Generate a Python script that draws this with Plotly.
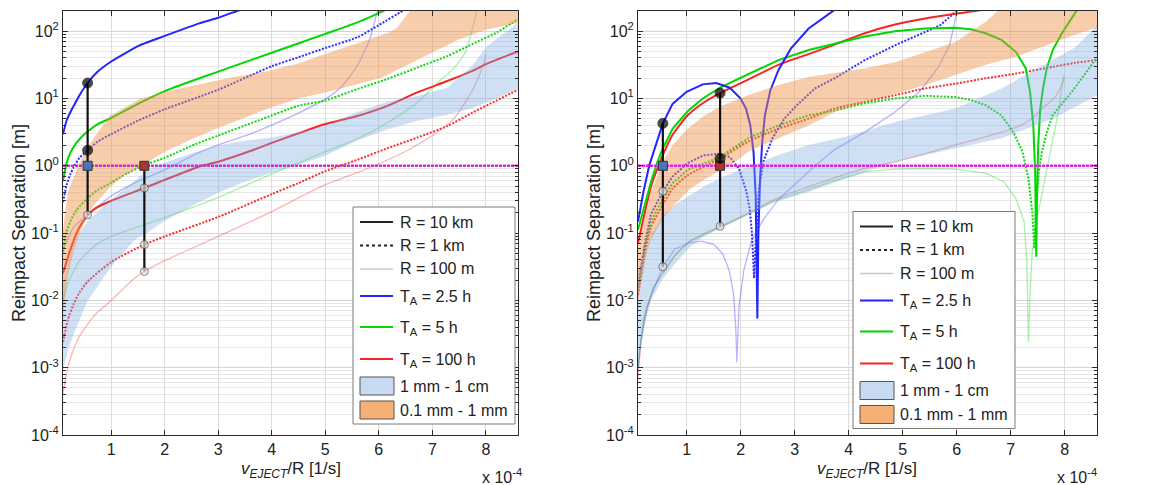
import plotly.graph_objects as go

# ---------------- canvas / axes ----------------
W, H = 1149, 485
ML, MR, MT, MB = 63, 52, 11, 50

X_RANGE = [0.1, 8.6]          # v_EJECT/R in units of 1e-4 1/s
Y_LOG_RANGE = [-4, 2.3]       # log10 of separation [m]

x_ticks = [1, 2, 3, 4, 5, 6, 7, 8]
x_ticklabels = ["1", "2", "3", "4", "5", "6", "7", "8"]
y_ticks = [1e-4, 1e-3, 1e-2, 1e-1, 1e0, 1e1, 1e2]
y_ticklabels = ["10<sup>-4</sup>", "10<sup>-3</sup>", "10<sup>-2</sup>", "10<sup>-1</sup>",
                "10<sup>0</sup>", "10<sup>1</sup>", "10<sup>2</sup>"]
y_minor = [k * 10.0 ** d for d in range(-4, 3) for k in range(2, 10)]

threshold_m = 1.0

# ---------------- LEFT PANEL (values are log10 of separation in m) ----------------
A_x_b10 = [0.10, 0.17, 0.24, 0.30, 0.41, 0.56, 0.75, 1.00, 1.30, 1.53, 2.00, 2.66, 3.00, 3.35, 3.60]
A_L_b10 = [0.47, 0.68, 0.80, 0.89, 1.05, 1.23, 1.40, 1.55, 1.69, 1.79, 1.93, 2.12, 2.20, 2.30, 2.37]

A_x_g10 = [0.10, 0.17, 0.24, 0.34, 0.46, 0.56, 0.75, 1.00, 1.50, 2.00, 3.00, 4.00, 5.00, 5.60, 6.08, 6.30]
A_L_g10 = [-0.22, 0.05, 0.20, 0.33, 0.44, 0.51, 0.62, 0.71, 0.92, 1.11, 1.40, 1.68, 1.96, 2.13, 2.30, 2.38]

A_x_r10 = [0.10, 0.19, 0.30, 0.41, 0.56, 0.69, 1.00, 1.62, 2.00, 2.65, 3.00, 3.64, 4.00, 4.49, 5.00, 5.60,
           6.16, 6.72, 7.28, 7.75, 8.00, 8.60]
A_L_r10 = [-1.60, -1.36, -1.11, -0.91, -0.74, -0.64, -0.52, -0.33, -0.21, -0.01, 0.06, 0.23, 0.34, 0.48, 0.62,
           0.74, 0.89, 1.09, 1.26, 1.41, 1.51, 1.70]

A_x_b1 = [0.10, 0.17, 0.24, 0.30, 0.41, 0.56, 0.75, 1.00, 1.50, 2.00, 3.00, 4.00, 4.49, 5.00, 5.60, 6.00, 6.44, 6.60]
A_L_b1 = [-0.54, -0.28, -0.12, -0.02, 0.12, 0.23, 0.36, 0.47, 0.67, 0.84, 1.13, 1.48, 1.61, 1.75, 1.91, 2.09, 2.30, 2.36]

A_x_g1 = [0.10, 0.16, 0.24, 0.35, 0.56, 0.75, 1.00, 1.30, 1.62, 2.00, 2.57, 3.00, 3.74, 4.49, 5.00, 5.60, 6.16,
          6.72, 7.28, 7.75, 8.20, 8.60]
A_L_g1 = [-1.28, -1.00, -0.82, -0.66, -0.48, -0.36, -0.25, -0.11, 0.01, 0.12, 0.32, 0.45, 0.67, 0.89, 0.97,
          1.14, 1.29, 1.46, 1.63, 1.81, 1.98, 2.18]

A_x_r1 = [0.10, 0.19, 0.30, 0.41, 0.56, 1.00, 1.62, 2.00, 3.00, 4.00, 4.49, 5.00, 5.60, 6.16, 6.72, 7.28, 7.75,
          8.20, 8.60]
A_L_r1 = [-2.62, -2.29, -2.05, -1.88, -1.72, -1.43, -1.17, -1.05, -0.76, -0.42, -0.26, -0.08, 0.09, 0.26, 0.42,
          0.59, 0.79, 0.97, 1.13]

A_x_b100 = [0.10, 0.30, 0.56, 1.00, 1.45, 2.00, 2.57, 3.00, 3.69, 4.19, 4.49, 5.00, 5.32, 5.60, 5.83, 5.95, 6.02]
A_L_b100 = [-1.26, -0.91, -0.73, -0.45, -0.25, -0.06, 0.17, 0.31, 0.50, 0.67, 0.78, 0.99, 1.19, 1.49, 1.88,
            2.23, 2.40]

A_x_g100 = [0.10, 0.19, 0.41, 0.69, 1.00, 1.45, 2.00, 3.00, 4.00, 4.49, 5.00, 5.60, 6.16, 6.72, 7.11, 7.39, 7.61,
            7.73, 7.80, 7.85]
A_L_g100 = [-2.00, -1.75, -1.41, -1.19, -1.05, -0.92, -0.77, -0.47, -0.12, 0.04, 0.21, 0.40, 0.64, 0.94, 1.24,
            1.44, 1.68, 1.98, 2.20, 2.40]

A_x_r100 = [0.10, 0.19, 0.30, 0.41, 0.69, 1.00, 1.45, 1.62, 2.00, 3.00, 4.00, 4.49, 5.00, 5.60, 6.00, 6.44, 7.00,
            7.39, 7.61, 7.80, 7.95, 8.00]
A_L_r100 = [-3.38, -3.00, -2.72, -2.53, -2.22, -2.00, -1.66, -1.57, -1.41, -1.05, -0.68, -0.48, -0.28, -0.10,
            0.03, 0.19, 0.45, 0.69, 0.94, 1.20, 1.50, 1.66]

A_x_or_up = [0.10, 0.19, 0.41, 0.56, 0.97, 1.53, 2.00, 2.66, 3.22, 3.89, 4.49, 5.00, 5.60, 6.16, 6.34, 6.58,
             6.80, 8.60]
A_L_or_up = [-0.95, -0.39, 0.05, 0.28, 0.74, 0.99, 1.10, 1.21, 1.31, 1.40, 1.52, 1.66, 1.82, 1.97, 2.05, 2.30,
             2.60, 2.60]
A_x_or_lo = [0.10, 0.19, 0.30, 0.41, 0.56, 0.69, 1.00, 1.25, 1.45, 1.62, 2.00, 2.57, 3.00, 3.89, 4.49, 5.00,
             5.60, 6.05, 6.44, 7.00, 7.50, 8.00, 8.60]
A_L_or_lo = [-2.20, -1.65, -1.26, -1.01, -0.74, -0.57, -0.30, -0.14, -0.06, 0.02, 0.21, 0.42, 0.56, 0.84, 1.00,
             1.09, 1.21, 1.31, 1.46, 1.68, 1.88, 2.02, 2.12]

A_x_bl_up = [0.10, 0.30, 0.56, 1.00, 1.45, 1.62, 2.00, 2.57, 3.00, 3.46, 4.00, 4.52, 5.00, 5.60, 6.16, 6.72,
             7.28, 7.75, 8.00, 8.30, 8.60]
A_L_bl_up = [-1.75, -1.15, -0.82, -0.50, -0.22, -0.09, 0.05, 0.20, 0.30, 0.37, 0.42, 0.50, 0.60, 0.80, 0.95,
             1.04, 1.16, 1.49, 1.76, 1.95, 2.13]
A_x_bl_lo = [0.10, 0.19, 0.30, 0.56, 1.00, 1.45, 1.62, 2.00, 2.57, 3.00, 3.46, 4.00, 4.52, 5.00, 5.60, 6.16,
             6.72, 7.28, 7.75, 8.20, 8.60]
A_L_bl_lo = [-3.05, -2.75, -2.50, -2.00, -1.50, -1.09, -1.02, -0.82, -0.57, -0.40, -0.25, -0.10, 0.02, 0.15,
             0.38, 0.54, 0.67, 0.76, 0.86, 1.00, 1.15]

A_mark_x = [0.56, 0.56, 0.56, 1.62, 1.62, 1.62]
A_mark_L = [1.23, 0.23, -0.73, -0.33, -1.17, -1.57]

# ---------------- RIGHT PANEL ----------------
B_x_b10 = [0.10, 0.20, 0.31, 0.43, 0.56, 0.74, 1.00, 1.30, 1.55, 1.80, 2.00, 2.10, 2.18, 2.24, 2.28, 2.31, 2.33,
           2.36, 2.40, 2.45, 2.55, 2.70, 2.93, 3.26, 3.50, 3.71, 3.85]
B_L_b10 = [-0.83, -0.39, 0.01, 0.31, 0.63, 0.92, 1.10, 1.21, 1.23, 1.16, 1.00, 0.85, 0.60, 0.20, -0.45, -2.27,
           -1.00, -0.20, 0.35, 0.75, 1.12, 1.42, 1.74, 2.04, 2.18, 2.30, 2.38]

B_x_b1 = [0.10, 0.23, 0.34, 0.56, 0.74, 1.02, 1.30, 1.58, 1.80, 1.97, 2.11, 2.17, 2.21, 2.25, 2.275, 2.30, 2.34,
          2.42, 2.59, 2.81, 3.04, 3.38, 3.74, 4.30, 4.86, 5.42, 5.70, 5.98, 6.05]
B_L_b1 = [-1.78, -1.15, -0.72, -0.38, -0.16, 0.04, 0.15, 0.18, 0.13, -0.04, -0.39, -0.65, -1.00, -1.67, -1.20,
          -0.80, -0.35, 0.06, 0.41, 0.70, 0.90, 1.15, 1.30, 1.57, 1.79, 1.99, 2.09, 2.29, 2.35]

B_x_b100 = [0.10, 0.15, 0.27, 0.38, 0.56, 0.78, 1.06, 1.28, 1.51, 1.67, 1.79, 1.87, 1.91, 1.93, 1.97, 2.06, 2.20,
            2.42, 2.70, 3.04, 3.38, 3.74, 4.30, 4.86, 5.31, 5.65, 5.87, 5.98, 6.02]
B_L_b100 = [-3.00, -2.60, -2.10, -1.86, -1.50, -1.24, -1.14, -1.12, -1.17, -1.31, -1.56, -1.91, -2.40, -2.92,
            -2.10, -1.55, -1.12, -0.80, -0.50, -0.25, 0.00, 0.24, 0.50, 0.80, 1.10, 1.45, 1.79, 2.19, 2.35]

B_x_g10 = [0.10, 0.23, 0.34, 0.46, 0.56, 0.74, 1.02, 1.30, 1.62, 2.14, 2.70, 3.26, 3.74, 4.30, 4.86, 5.42, 5.98,
           6.26, 6.54, 6.83, 7.10, 7.28, 7.36, 7.42, 7.455, 7.475, 7.49, 7.51, 7.55, 7.60, 7.67, 7.78, 7.95, 8.20,
           8.30]
B_L_g10 = [-0.95, -0.58, -0.24, 0.06, 0.26, 0.55, 0.81, 1.00, 1.16, 1.36, 1.57, 1.72, 1.81, 1.92, 2.00, 2.04,
           2.05, 2.03, 1.97, 1.87, 1.69, 1.45, 1.10, 0.60, -0.10, -1.35, -0.50, 0.30, 0.85, 1.15, 1.45, 1.72, 1.97,
           2.28, 2.36]

B_x_r10 = [0.10, 0.23, 0.34, 0.46, 0.56, 0.74, 1.02, 1.30, 1.62, 2.14, 2.70, 3.26, 3.74, 4.30, 4.86, 5.42, 5.98,
           6.43, 6.60]
B_L_r10 = [-1.15, -0.68, -0.31, -0.04, 0.16, 0.46, 0.75, 0.93, 1.08, 1.28, 1.50, 1.66, 1.80, 1.97, 2.10, 2.19,
           2.26, 2.31, 2.34]

B_x_g1 = [0.10, 0.23, 0.34, 0.56, 0.74, 1.02, 1.62, 2.14, 2.70, 3.26, 3.74, 4.30, 4.86, 5.42, 5.98, 6.26, 6.54,
          6.83, 7.05, 7.22, 7.33, 7.40, 7.44, 7.47, 7.52, 7.58, 7.67, 7.78, 8.20, 8.60]
B_L_g1 = [-1.82, -1.18, -0.83, -0.49, -0.26, -0.06, 0.13, 0.41, 0.60, 0.75, 0.82, 0.93, 1.00, 1.04, 1.02, 0.98,
          0.90, 0.75, 0.50, 0.21, -0.19, -0.68, -1.23, -0.60, -0.10, 0.20, 0.50, 0.75, 1.17, 1.61]

B_x_r1 = [0.10, 0.23, 0.34, 0.56, 0.74, 1.02, 1.62, 2.14, 2.70, 3.26, 3.74, 4.30, 4.86, 5.42, 5.98, 6.54, 7.10,
          7.78, 8.20, 8.60]
B_L_r1 = [-1.92, -1.28, -0.91, -0.58, -0.34, -0.14, 0.11, 0.36, 0.55, 0.70, 0.85, 0.95, 1.05, 1.15, 1.22, 1.30,
          1.37, 1.47, 1.53, 1.57]

B_x_g100 = [0.10, 0.15, 0.21, 0.38, 0.56, 0.78, 1.06, 1.62, 2.00, 2.63, 3.26, 3.74, 4.30, 4.86, 5.42, 5.98, 6.54,
            6.88, 7.10, 7.25, 7.30, 7.33, 7.36, 7.40, 7.46, 7.58, 7.77, 7.89, 7.98]
B_L_g100 = [-3.00, -2.60, -2.25, -1.81, -1.58, -1.33, -1.12, -0.91, -0.77, -0.52, -0.35, -0.22, -0.09, -0.05,
            -0.04, -0.05, -0.11, -0.24, -0.49, -0.83, -1.40, -2.62, -1.90, -1.30, -0.90, -0.42, 0.38, 0.82, 1.34]

B_x_r100 = [0.10, 0.15, 0.21, 0.38, 0.56, 0.78, 1.06, 1.62, 2.00, 2.63, 3.26, 3.74, 4.30, 4.86, 5.42, 5.98, 6.54,
            6.83, 7.10, 7.39, 7.58, 7.78, 7.89, 8.00]
B_L_r100 = [-3.15, -2.70, -2.30, -1.83, -1.60, -1.34, -1.12, -0.90, -0.76, -0.50, -0.31, -0.18, -0.04, 0.06,
            0.18, 0.31, 0.43, 0.50, 0.57, 0.70, 0.85, 0.98, 1.10, 1.32]

B_x_or_up = [0.10, 0.23, 0.34, 0.56, 0.74, 1.02, 1.30, 1.62, 2.14, 2.70, 3.26, 3.74, 4.30, 4.86, 5.42, 5.98,
             6.26, 6.54, 6.77, 7.00, 8.60]
B_L_or_up = [-1.20, -0.78, -0.39, 0.06, 0.31, 0.55, 0.73, 0.88, 1.05, 1.20, 1.32, 1.38, 1.45, 1.54, 1.69, 1.84,
             1.99, 2.14, 2.31, 2.60, 2.60]
B_x_or_lo = [0.10, 0.27, 0.34, 0.56, 0.78, 1.06, 1.34, 1.62, 1.84, 2.14, 2.70, 3.26, 3.74, 4.30, 4.86, 5.42,
             5.98, 6.54, 7.10, 7.78, 8.20, 8.60]
B_L_or_lo = [-2.00, -1.26, -1.10, -0.78, -0.57, -0.35, -0.20, -0.07, 0.02, 0.21, 0.41, 0.60, 0.80, 0.95, 1.07,
             1.20, 1.35, 1.50, 1.62, 1.82, 1.95, 2.05]

B_x_bl_up = [0.10, 0.27, 0.34, 0.56, 0.78, 1.06, 1.30, 1.62, 2.00, 2.14, 2.70, 3.26, 3.94, 4.86, 5.98, 6.83,
             7.78, 8.20, 8.60]
B_L_bl_up = [-1.55, -1.20, -1.02, -0.74, -0.58, -0.44, -0.32, -0.18, -0.06, -0.01, 0.16, 0.31, 0.43, 0.65,
             0.85, 1.15, 1.57, 1.76, 2.08]
B_x_bl_lo = [0.10, 0.23, 0.34, 0.56, 0.78, 1.06, 1.30, 1.62, 2.00, 2.63, 3.26, 3.74, 4.86, 5.98, 6.83, 7.78,
             8.60]
B_L_bl_lo = [-2.90, -2.35, -2.00, -1.68, -1.46, -1.21, -1.06, -0.93, -0.79, -0.54, -0.39, -0.25, 0.06, 0.26,
             0.41, 0.70, 1.05]

B_mark_x = [0.56, 0.56, 0.56, 1.62, 1.62, 1.62]
B_mark_L = [0.63, -0.38, -1.50, 1.08, 0.11, -0.90]

square_x = [0.56, 1.62]
square_y = [1.0, 1.0]

# ---------------- styles ----------------
COL = {"2.5": "#2424ff", "5": "#00d800", "100": "#f52525"}
STY = {
    "10km": dict(width=2.0, dash="solid", opacity=1.0),
    "1km": dict(width=2.0, dash="2px,1.5px", opacity=0.95),
    "100m": dict(width=1.3, dash="solid", opacity=0.33),
}
SQ_COL = ["#4677b8", "#a83434"]
ORANGE_FILL = "rgba(240,145,70,0.45)"
BLUE_FILL = "rgba(130,170,225,0.38)"

fig = go.Figure()


def lin(L):
    return [10.0 ** v for v in L]


def add_curve(x, L, t, r, ax, smooth):
    s = STY[r]
    fig.add_trace(go.Scatter(
        x=x, y=lin(L), mode="lines", xaxis="x" + ax, yaxis="y" + ax,
        line=dict(color=COL[t], width=s["width"], dash=s["dash"],
                  shape="spline" if smooth else "linear", smoothing=0.6),
        opacity=s["opacity"], showlegend=False, hoverinfo="skip"))


def add_band(xu, Lu, xl, Ll, color, ax):
    fig.add_trace(go.Scatter(
        x=list(xu) + list(xl)[::-1], y=lin(Lu) + lin(Ll)[::-1], mode="lines",
        fill="toself", fillcolor=color, line=dict(width=0), xaxis="x" + ax, yaxis="y" + ax,
        showlegend=False, hoverinfo="skip"))


def add_markers(mx, mL, ax):
    # vertical connector lines
    for xv in sorted(set(mx)):
        vals = [10 ** l for xx, l in zip(mx, mL) if xx == xv] + [threshold_m]
        fig.add_trace(go.Scatter(x=[xv, xv], y=[max(vals), min(vals)], mode="lines",
                                 line=dict(color="#111111", width=2.2), xaxis="x" + ax, yaxis="y" + ax,
                                 showlegend=False, hoverinfo="skip"))
    fig.add_trace(go.Scatter(x=square_x, y=square_y, mode="markers", xaxis="x" + ax, yaxis="y" + ax,
                             marker=dict(symbol="square", size=9, color=SQ_COL,
                                         line=dict(color="#333333", width=1)),
                             showlegend=False, hoverinfo="skip"))
    ys = lin(mL)
    fig.add_trace(go.Scatter(
        x=mx, y=ys, mode="markers", xaxis="x" + ax, yaxis="y" + ax,
        marker=dict(size=[10 if v > threshold_m else 8 for v in ys],
                    color=["#000000" if v > threshold_m else "#dcdcdc" for v in ys],
                    line=dict(color=["#000000" if v > threshold_m else "#555555" for v in ys], width=1)),
        showlegend=False, hoverinfo="skip"))


panels = {
    "": dict(
        curves=[(A_x_r100, A_L_r100, "100", "100m", True), (A_x_g100, A_L_g100, "5", "100m", True),
                (A_x_b100, A_L_b100, "2.5", "100m", True),
                (A_x_r1, A_L_r1, "100", "1km", True), (A_x_g1, A_L_g1, "5", "1km", True),
                (A_x_b1, A_L_b1, "2.5", "1km", True),
                (A_x_r10, A_L_r10, "100", "10km", True), (A_x_g10, A_L_g10, "5", "10km", True),
                (A_x_b10, A_L_b10, "2.5", "10km", True)],
        bands=[(A_x_bl_up, A_L_bl_up, A_x_bl_lo, A_L_bl_lo, BLUE_FILL),
               (A_x_or_up, A_L_or_up, A_x_or_lo, A_L_or_lo, ORANGE_FILL)],
        marks=(A_mark_x, A_mark_L)),
    "2": dict(
        curves=[(B_x_r100, B_L_r100, "100", "100m", True), (B_x_g100, B_L_g100, "5", "100m", False),
                (B_x_b100, B_L_b100, "2.5", "100m", False),
                (B_x_r1, B_L_r1, "100", "1km", True), (B_x_g1, B_L_g1, "5", "1km", False),
                (B_x_b1, B_L_b1, "2.5", "1km", False),
                (B_x_r10, B_L_r10, "100", "10km", True), (B_x_g10, B_L_g10, "5", "10km", False),
                (B_x_b10, B_L_b10, "2.5", "10km", False)],
        bands=[(B_x_bl_up, B_L_bl_up, B_x_bl_lo, B_L_bl_lo, BLUE_FILL),
               (B_x_or_up, B_L_or_up, B_x_or_lo, B_L_or_lo, ORANGE_FILL)],
        marks=(B_mark_x, B_mark_L)),
}

for ax, p in panels.items():
    for c in p["curves"]:
        add_curve(c[0], c[1], c[2], c[3], ax, c[4])
    for b in p["bands"]:
        add_band(*b[:4], b[4], ax)
    fig.add_trace(go.Scatter(x=X_RANGE, y=[threshold_m, threshold_m], mode="lines",
                             line=dict(color="#d42ad4", width=2.4, dash="3px,1px"),
                             xaxis="x" + ax, yaxis="y" + ax, showlegend=False, hoverinfo="skip"))
    add_markers(p["marks"][0], p["marks"][1], ax)

# ---------------- layout ----------------
PW = W - ML - MR
PH = H - MT - MB


def px(xp):
    return (xp - ML) / PW


def py(yp):
    return (H - MB - yp) / PH


FONT = "Liberation Sans, Arial, Helvetica, sans-serif"
xcommon = dict(range=X_RANGE, tickmode="array", tickvals=x_ticks, ticktext=x_ticklabels,
               showgrid=True, gridcolor="#dddddd", gridwidth=1, zeroline=False,
               showline=True, linecolor="#2b2b2b", linewidth=1, mirror="ticks",
               ticks="inside", ticklen=5, tickcolor="#2b2b2b", tickfont=dict(size=16, color="#222"))
ycommon = dict(type="log", range=Y_LOG_RANGE, tickmode="array", tickvals=y_ticks, ticktext=y_ticklabels,
               showgrid=True, gridcolor="#d4d4d4", gridwidth=1, zeroline=False,
               showline=True, linecolor="#2b2b2b", linewidth=1, mirror="ticks",
               ticks="inside", ticklen=5, tickcolor="#2b2b2b", tickfont=dict(size=16, color="#222"),
               minor=dict(tickmode="array", tickvals=y_minor, ticks="inside", ticklen=3,
                          tickcolor="#2b2b2b", showgrid=True, gridcolor="#e8e8e8"),
               domain=[0, 1])

fig.update_layout(
    width=W, height=H, margin=dict(l=ML, r=MR, t=MT, b=MB),
    paper_bgcolor="white", plot_bgcolor="white", showlegend=False,
    font=dict(family=FONT, size=16, color="#222"),
    xaxis=dict(domain=[0, px(518)], anchor="y", **xcommon),
    xaxis2=dict(domain=[px(638), 1], anchor="y2", **xcommon),
    yaxis=dict(anchor="x", **ycommon),
    yaxis2=dict(anchor="x2", **ycommon),
)

shapes = []
annots = []

LEG_ITEMS = [
    ("R = 10 km", "line", dict(color="#222222", width=2, dash="solid")),
    ("R = 1 km", "line", dict(color="#222222", width=2, dash="dot")),
    ("R = 100 m", "line", dict(color="#c8c8c8", width=1.5, dash="solid")),
    ("T<sub>A</sub> = 2.5 h", "line", dict(color=COL["2.5"], width=2, dash="solid")),
    ("T<sub>A</sub> = 5 h", "line", dict(color=COL["5"], width=2, dash="solid")),
    ("T<sub>A</sub> = 100 h", "line", dict(color=COL["100"], width=2, dash="solid")),
    ("1 mm - 1 cm", "box", "rgb(200,218,242)"),
    ("0.1 mm - 1 mm", "box", "rgb(246,176,118)"),
]
LEG_Y = [222, 245.5, 269, 296, 327, 359, 386, 410]
LEG_TY = [222, 245.5, 269, 297, 328, 360, 386, 410]


def add_legend(x0, y0, dx, dy):
    shapes.append(dict(type="rect", xref="paper", yref="paper",
                       x0=px(x0 + dx), x1=px(x0 + dx + 162), y0=py(y0 + dy), y1=py(y0 + dy + 217),
                       fillcolor="white", line=dict(color="#7a7a7a", width=1), layer="above"))
    for (label, kind, st), yl, yt in zip(LEG_ITEMS, LEG_Y, LEG_TY):
        if kind == "line":
            shapes.append(dict(type="line", xref="paper", yref="paper",
                               x0=px(360 + dx), x1=px(393 + dx), y0=py(yl + dy), y1=py(yl + dy),
                               line=st, layer="above"))
        else:
            shapes.append(dict(type="rect", xref="paper", yref="paper",
                               x0=px(360 + dx), x1=px(394 + dx), y0=py(yl + dy - 9), y1=py(yl + dy + 9),
                               fillcolor=st, line=dict(color="#555555", width=1), layer="above"))
        annots.append(dict(text=label, xref="paper", yref="paper", x=px(398 + dx), y=py(yt + dy),
                           xanchor="left", yanchor="middle", showarrow=False,
                           font=dict(size=16, color="#222")))


add_legend(353, 207, 0, 0)
add_legend(353, 207, 500, 4.5)

for cx, tx in [(290.5, 480), (867, 1055)]:
    annots.append(dict(text="<i>v</i><sub><i>EJECT</i></sub>/R [1/s]", xref="paper", yref="paper",
                       x=px(cx), y=py(470), xanchor="center", yanchor="middle", showarrow=False,
                       font=dict(size=17, color="#222")))
    annots.append(dict(text="x 10<sup>-4</sup>", xref="paper", yref="paper",
                       x=px(tx), y=py(476), xanchor="left", yanchor="middle", showarrow=False,
                       font=dict(size=16, color="#222")))
for cx in [19, 594]:
    annots.append(dict(text="Reimpact Separation [m]", xref="paper", yref="paper",
                       x=px(cx), y=py(223), xanchor="center", yanchor="middle", textangle=-90,
                       showarrow=False, font=dict(size=18, color="#222")))

fig.update_layout(shapes=shapes, annotations=annots)
fig.write_html("out.html", config={"displayModeBar": False},
               post_script="document.body.style.margin='0px';document.body.style.overflow='hidden';")
